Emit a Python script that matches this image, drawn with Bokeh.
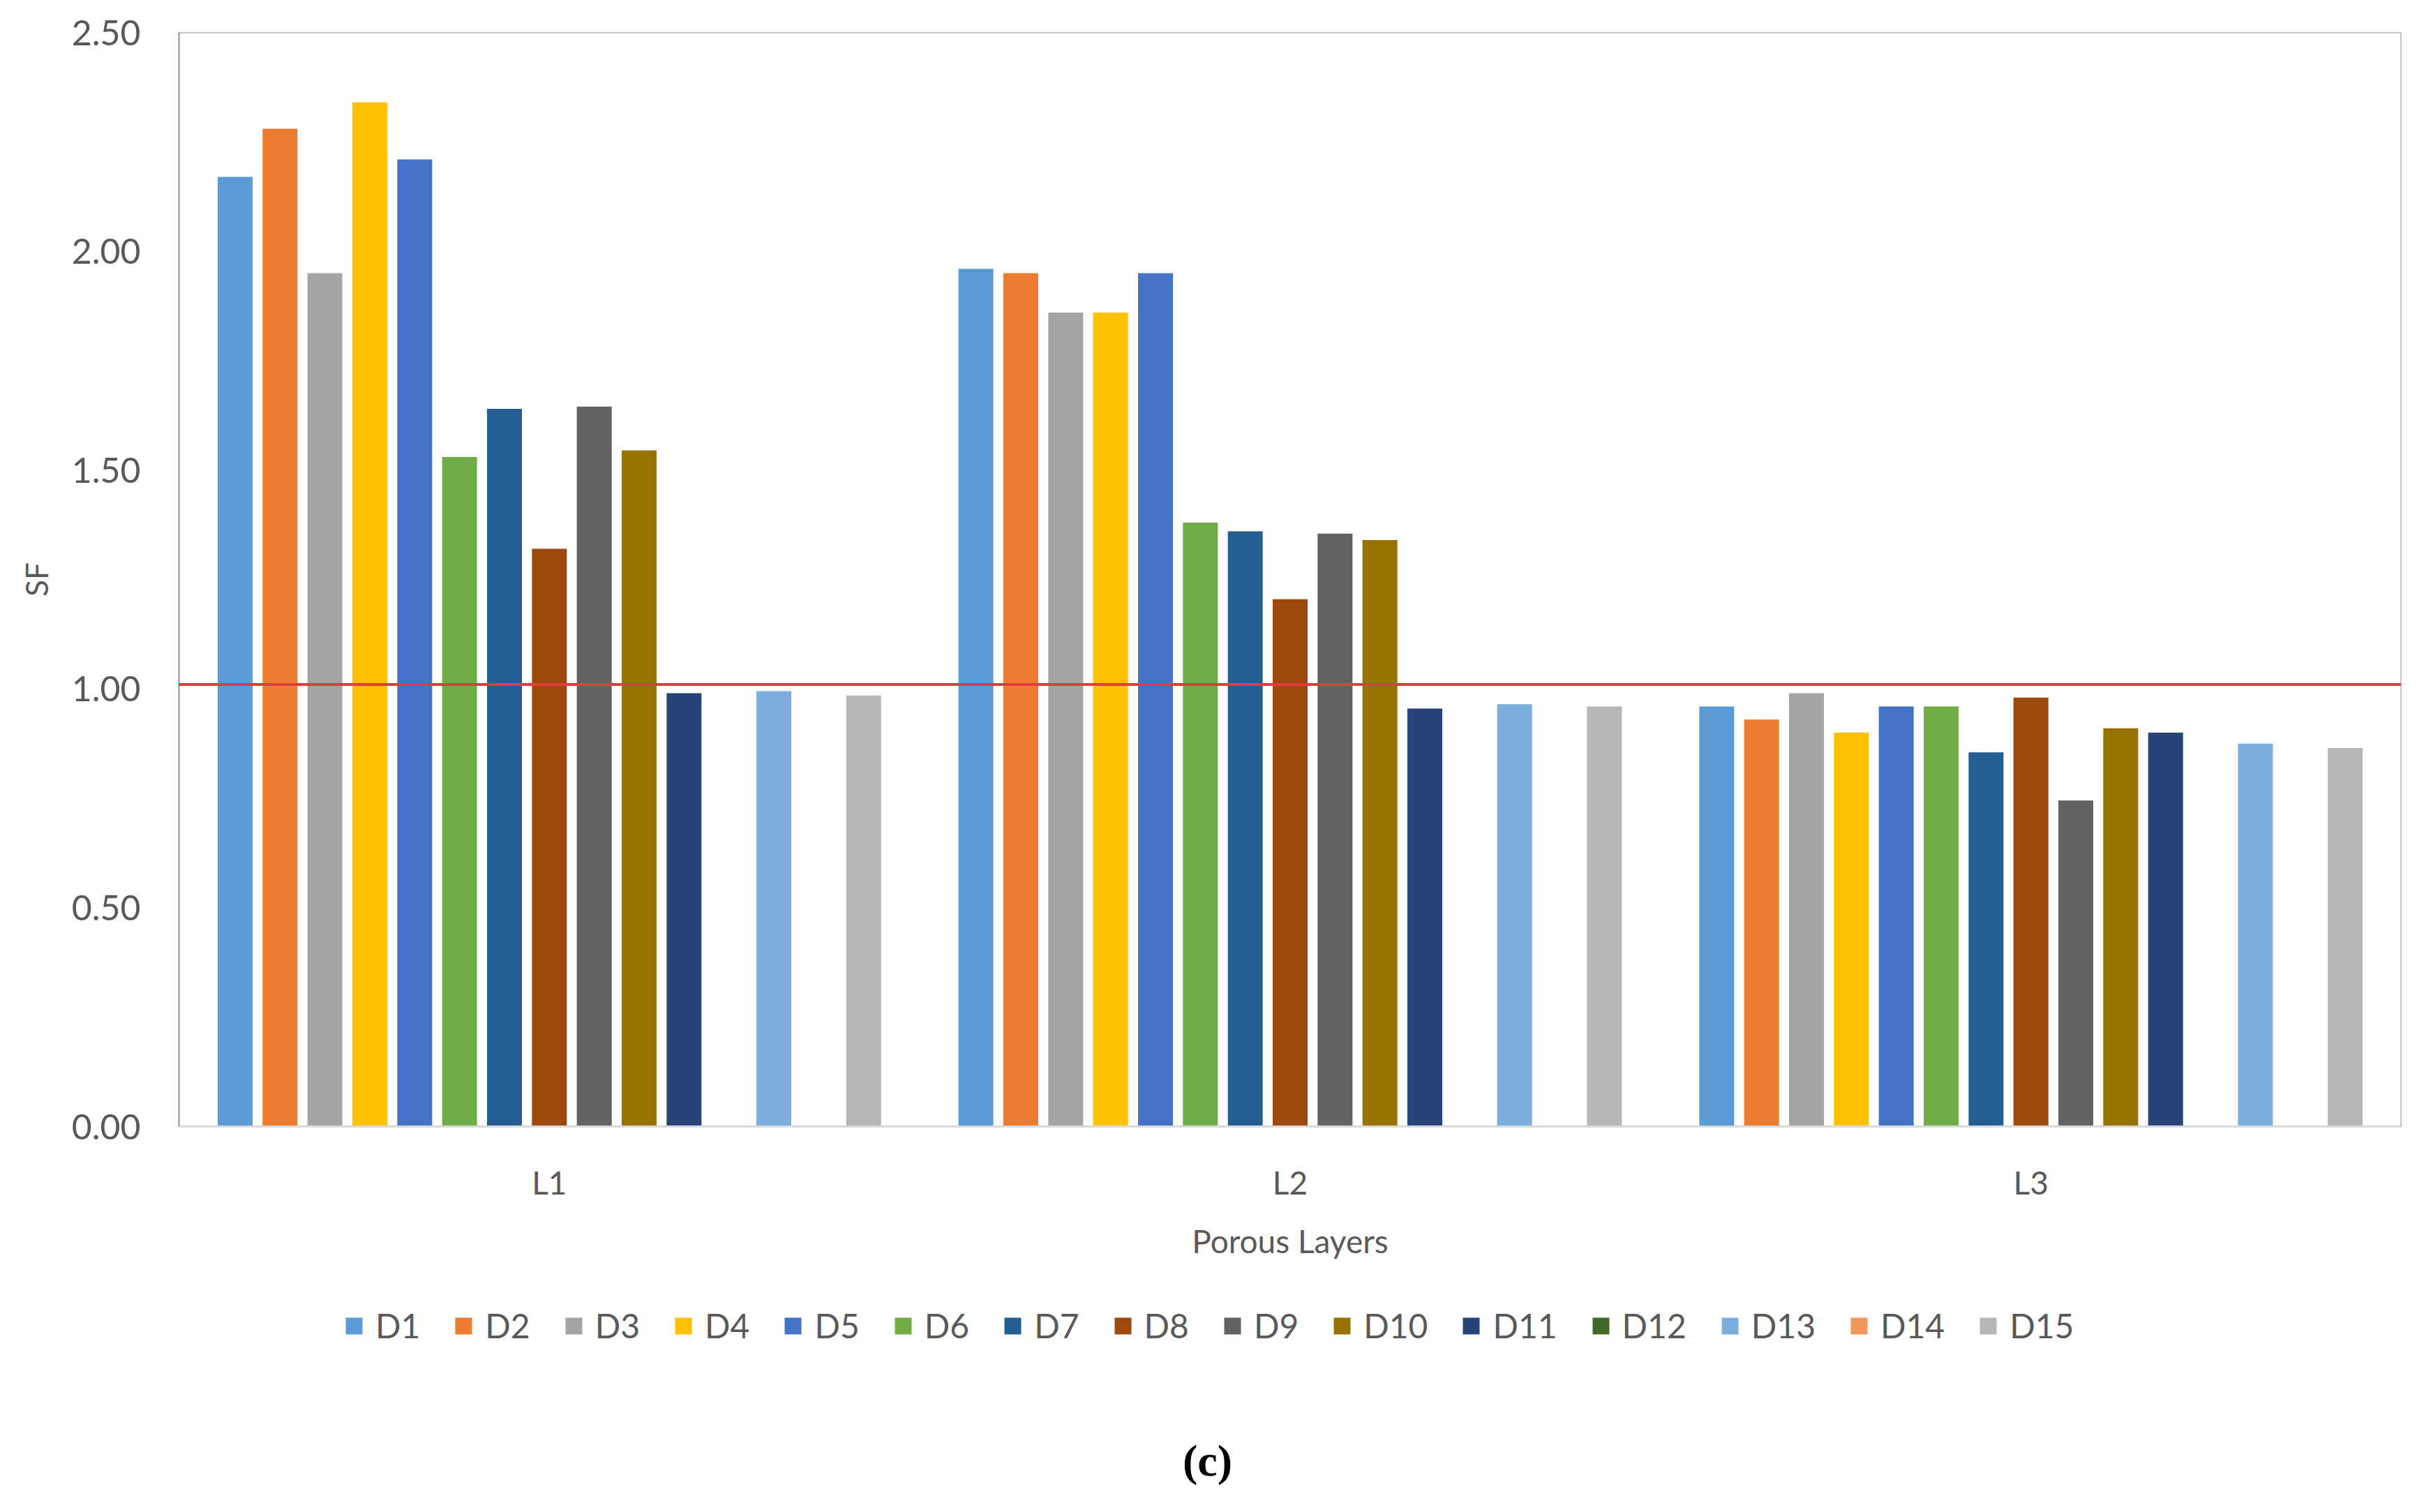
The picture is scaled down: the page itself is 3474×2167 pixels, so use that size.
from bokeh.plotting import figure
from bokeh.layouts import column
from bokeh.models import (FactorRange, Range1d, ColumnDataSource, FixedTicker,
                          NumeralTickFormatter, Span, Legend, LegendItem, Label)
from bokeh.transform import dodge
from bokeh.embed import file_html
from bokeh.resources import INLINE

# ---- data ----
layers = ["L1", "L2", "L3"]
series_names = ["D1", "D2", "D3", "D4", "D5", "D6", "D7", "D8", "D9", "D10",
                "D11", "D12", "D13", "D14", "D15"]
D1 = [2.17, 1.96, 0.96]
D2 = [2.28, 1.95, 0.93]
D3 = [1.95, 1.86, 0.99]
D4 = [2.34, 1.86, 0.90]
D5 = [2.21, 1.95, 0.96]
D6 = [1.53, 1.38, 0.96]
D7 = [1.64, 1.36, 0.855]
D8 = [1.32, 1.205, 0.98]
D9 = [1.645, 1.355, 0.745]
D10 = [1.545, 1.34, 0.91]
D11 = [0.99, 0.955, 0.90]
D12 = [0.0, 0.0, 0.0]
D13 = [0.995, 0.965, 0.875]
D14 = [0.0, 0.0, 0.0]
D15 = [0.985, 0.96, 0.865]
series_values = [D1, D2, D3, D4, D5, D6, D7, D8, D9, D10, D11, D12, D13, D14, D15]
colors = ["#5B9BD5", "#ED7D31", "#A5A5A5", "#FFC000", "#4472C4", "#70AD47",
          "#255E91", "#9E480E", "#636363", "#997300", "#264478", "#43682B",
          "#7CAFDD", "#F1975A", "#B7B7B7"]
y_ticks = [0.0, 0.5, 1.0, 1.5, 2.0, 2.5]
threshold = 1.01

FONT = "Lato"
TXT = "#595959"
W = 3458
H1 = 1830
H2 = 2151 - H1
BL, BR = 256, 17

# ---------------- main chart ----------------
p = figure(x_range=FactorRange(*layers, range_padding=0),
           y_range=Range1d(0, 2.5),
           width=W, height=H1,
           output_backend="svg", toolbar_location=None,
           min_border_left=BL, min_border_right=BR,
           min_border_top=46, min_border_bottom=H1 - 46 - 1568)
p.background_fill_color = "white"
p.border_fill_color = "white"
p.outline_line_color = None
p.xgrid.grid_line_color = None
p.ygrid.grid_line_color = None

slot = 0.0606
bw = 0.0471
for k, (vals, col) in enumerate(zip(series_values, colors)):
    src = ColumnDataSource(dict(layer=layers, v=vals))
    p.vbar(x=dodge("layer", (k - 7) * slot, range=p.x_range), top="v",
           width=bw, source=src, fill_color=col, line_color=None)

# threshold line and frame borders
p.add_layout(Span(location=threshold, dimension="width", line_color="#E23B3B", line_width=4))
p.add_layout(Span(location=2.5, dimension="width", line_color="#8C8C8C", line_width=2))
p.add_layout(Span(location=3.0, dimension="height", line_color="#8C8C8C", line_width=2))

# y axis
p.yaxis.ticker = FixedTicker(ticks=y_ticks)
p.yaxis.formatter = NumeralTickFormatter(format="0.00")
p.yaxis.axis_label = "SF"
p.yaxis.axis_line_color = "#8C8C8C"
p.yaxis.axis_line_width = 2
p.yaxis.major_tick_line_color = None
p.yaxis.minor_tick_line_color = None
p.yaxis.major_tick_out = 0
p.yaxis.major_label_standoff = 55
p.yaxis.axis_label_standoff = 22
p.yaxis.major_label_text_font = FONT
p.yaxis.major_label_text_font_size = "50px"
p.yaxis.major_label_text_color = TXT
p.yaxis.axis_label_text_font = FONT
p.yaxis.axis_label_text_font_size = "44px"
p.yaxis.axis_label_text_font_style = "normal"
p.yaxis.axis_label_text_color = TXT

# x axis
p.xaxis.axis_label = "Porous Layers"
p.xaxis.axis_line_color = "#D9D9D9"
p.xaxis.axis_line_width = 3
p.xaxis.major_tick_line_color = None
p.xaxis.minor_tick_line_color = None
p.xaxis.major_tick_out = 0
p.xaxis.major_label_standoff = 52
p.xaxis.axis_label_standoff = 26
p.xaxis.major_label_text_font = FONT
p.xaxis.major_label_text_font_size = "46px"
p.xaxis.major_label_text_color = TXT
p.xaxis.axis_label_text_font = FONT
p.xaxis.axis_label_text_font_size = "46px"
p.xaxis.axis_label_text_font_style = "normal"
p.xaxis.axis_label_text_color = TXT

# ---------------- legend + caption strip ----------------
p2 = figure(width=W, height=H2, x_range=Range1d(BL, W - BR),
            y_range=Range1d(0, H2),
            output_backend="svg", toolbar_location=None,
            x_axis_type=None, y_axis_type=None,
            min_border_left=BL, min_border_right=BR,
            min_border_top=0, min_border_bottom=0)
p2.outline_line_color = None
p2.xgrid.grid_line_color = None
p2.ygrid.grid_line_color = None
p2.background_fill_color = "white"
p2.border_fill_color = "white"

# zero-height proxies (nothing visible in the strip) that carry the legend swatches
items = []
for name, col in zip(series_names, colors):
    r = p2.vbar(x=[BL], top=[0], bottom=[0], width=1, fill_color=col, line_color=None)
    items.append(LegendItem(label=name, renderers=[r]))

legend = Legend(items=items, orientation="horizontal", location=(236, 223),
                glyph_width=30, glyph_height=30, label_standoff=16, spacing=47,
                padding=0, margin=0, border_line_color=None,
                background_fill_alpha=0,
                label_text_font=FONT, label_text_font_size="48px",
                label_text_color=TXT)
p2.add_layout(legend, "center")

p2.add_layout(Label(x=1730, y=58, text="(c)", text_align="center",
                    text_baseline="middle", text_font="Liberation Serif",
                    text_font_size="64px", text_font_style="bold",
                    text_color="black"))

layout = column(p, p2, spacing=0)
open("out.html", "w").write(file_html(layout, INLINE))
